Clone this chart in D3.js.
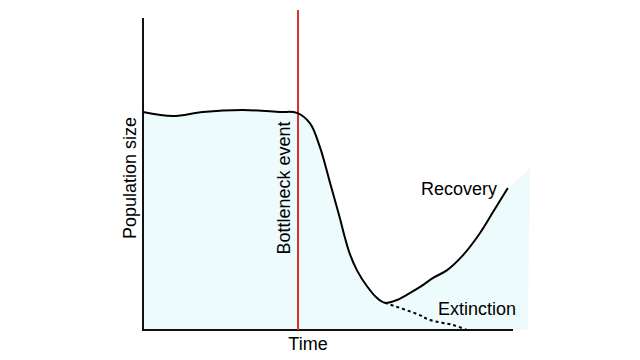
<!DOCTYPE html>
<html><head><meta charset="utf-8">
<script src="https://cdn.jsdelivr.net/npm/d3@7"></script>
<style>html,body{margin:0;padding:0;background:#fff;}svg{display:block;font-family:"Liberation Sans",Arial,sans-serif;}</style>
</head><body><svg id="c" width="640" height="360"></svg>
<script>
const time =       [0, 8.1, 16.2, 27, 37, 41.6, 45.1, 47.8, 50.5, 53.2, 54.6, 55.9, 57.8, 60.5, 63.2, 65.4, 68.6, 72.2, 74.9, 78.4, 82.2, 86.5, 91.1, 94.6, 98.6];
const population = [69.9, 68.6, 69.9, 70.5, 69.9, 69.6, 66.3, 58.7, 47.4, 35.9, 29.5, 24.4, 19.2, 14.1, 10.3, 8.7, 9.6, 11.9, 13.8, 16.7, 19.2, 24.0, 31.1, 37.8, 45.5];
const extTime = [65.4, 74.1, 77.6, 83.8, 87.6];
const extPop  = [8.7, 5.1, 3.2, 1.6, 0];
const fillEndTime = [104.6, 104];
const fillEndPop = [51.9, 0];
const bottleneckTime = 41.9;

const svg = d3.select("#c");
const x = d3.scaleLinear().domain([0,100]).range([143,513]);
const y = d3.scaleLinear().domain([0,100]).range([330,18]);

const main = time.map((t,i)=>[t,population[i]]);
const ext = extTime.map((t,i)=>[t,extPop[i]]);

const line = d3.line().x(d=>x(d[0])).y(d=>y(d[1])).curve(d3.curveCatmullRom);
const mainPath = line(main);
const fillPath = mainPath + "L" + x(fillEndTime[0]) + "," + y(fillEndPop[0]) + "L" + x(fillEndTime[1]) + "," + y(fillEndPop[1]) + "L" + x(0) + "," + y(0) + "Z";
svg.append("path").attr("d", fillPath).attr("fill","#eefbfc").attr("stroke","none");

// axes
svg.append("line").attr("x1",x(0)).attr("x2",x(0)).attr("y1",y(100)).attr("y2",y(0)).attr("stroke","#111").attr("stroke-width",2);
svg.append("line").attr("x1",x(0)-1).attr("x2",x(100)).attr("y1",y(0)).attr("y2",y(0)).attr("stroke","#111").attr("stroke-width",2);

// bottleneck line
svg.append("line").attr("x1",x(bottleneckTime)).attr("x2",x(bottleneckTime)).attr("y1",10).attr("y2",y(0)).attr("stroke","#d9302c").attr("stroke-width",2);

// curves
svg.append("path").attr("d",mainPath).attr("fill","none").attr("stroke","#000").attr("stroke-width",2);
svg.append("path").attr("d",line(ext)).attr("fill","none").attr("stroke","#000").attr("stroke-width",2).attr("stroke-dasharray","3,3");

// labels
const fs = 18;
svg.append("text").attr("x",308).attr("y",345).attr("text-anchor","middle").attr("dominant-baseline","middle").attr("font-size",fs).text("Time");
svg.append("text").attr("transform",`translate(131,178) rotate(-90)`).attr("text-anchor","middle").attr("dominant-baseline","middle").attr("font-size",fs).text("Population size");
svg.append("text").attr("transform",`translate(285,188) rotate(-90)`).attr("text-anchor","middle").attr("dominant-baseline","middle").attr("font-size",fs).text("Bottleneck event");
svg.append("text").attr("x",497).attr("y",190).attr("text-anchor","end").attr("dominant-baseline","middle").attr("font-size",fs).text("Recovery");
svg.append("text").attr("x",516).attr("y",310).attr("text-anchor","end").attr("dominant-baseline","middle").attr("font-size",fs).text("Extinction");
</script></body></html>
